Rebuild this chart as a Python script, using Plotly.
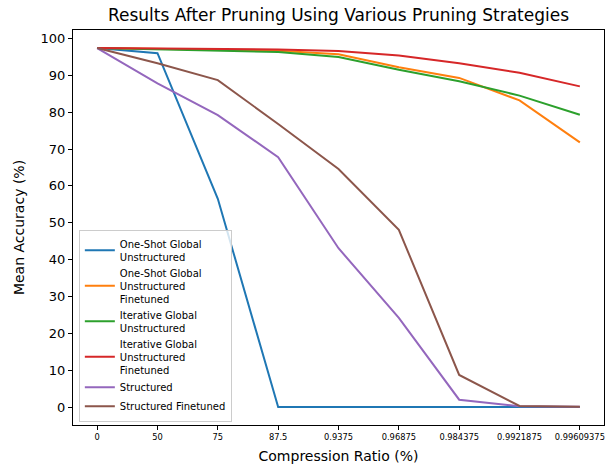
import plotly.graph_objects as go

compression = ["0", "50", "75", "87.5", "0.9375", "0.96875", "0.984375", "0.9921875", "0.99609375"]
one_shot = [97.4, 96.0, 56.5, 0.0, 0.0, 0.0, 0.0, 0.0, 0.0]
one_shot_ft = [97.4, 97.2, 97.0, 96.7, 95.7, 92.2, 89.3, 83.2, 71.8]
iterative = [97.4, 97.1, 96.8, 96.3, 95.0, 91.5, 88.4, 84.5, 79.3]
iterative_ft = [97.4, 97.3, 97.2, 97.0, 96.6, 95.4, 93.3, 90.7, 87.0]
structured = [97.4, 87.8, 79.2, 67.8, 43.1, 24.2, 2.0, 0.2, 0.1]
structured_ft = [97.4, 93.3, 88.7, 76.8, 64.6, 48.1, 8.7, 0.3, 0.1]

series = [
    ("One-Shot Global<br>Unstructured", one_shot, "#1f77b4"),
    ("One-Shot Global<br>Unstructured<br>Finetuned", one_shot_ft, "#ff7f0e"),
    ("Iterative Global<br>Unstructured", iterative, "#2ca02c"),
    ("Iterative Global<br>Unstructured<br>Finetuned", iterative_ft, "#d62728"),
    ("Structured", structured, "#9467bd"),
    ("Structured Finetuned", structured_ft, "#8c564b"),
]

font = "DejaVu Sans, Liberation Sans, sans-serif"
fig = go.Figure()
for name, vals, color in series:
    fig.add_trace(go.Scatter(x=compression, y=vals, mode="lines", name=name,
                             line=dict(color=color, width=2)))

axis_common = dict(showline=True, linecolor="black", linewidth=1, mirror=True,
                   ticks="outside", ticklen=4, tickcolor="black", showgrid=False,
                   zeroline=False, automargin=False)
fig.update_layout(
    width=607, height=468,
    margin=dict(l=73, r=3, t=30, b=43),
    paper_bgcolor="white", plot_bgcolor="white",
    font=dict(family=font, color="black"),
    title=dict(text="Results After Pruning Using Various Pruning Strategies",
               x=0.5, xanchor="center", xref="paper", y=1 - 15 / 468, yanchor="middle",
               font=dict(size=17, family=font)),
    xaxis=dict(type="category", categoryorder="array", categoryarray=compression,
               range=[-0.4, 8.4], tickfont=dict(size=8.3),
               title=dict(text="Compression Ratio (%)", font=dict(size=14), standoff=10),
               **axis_common),
    yaxis=dict(range=[-4.87, 102.3], dtick=10, tick0=0, tickfont=dict(size=13),
               title=dict(text="Mean Accuracy (%)", font=dict(size=14), standoff=12),
               **axis_common),
    legend=dict(x=0.011, y=0.008, xanchor="left", yanchor="bottom",
                bgcolor="rgba(255,255,255,0.8)", bordercolor="#cccccc", borderwidth=1,
                font=dict(size=10, family=font), tracegroupgap=0, itemwidth=30),
)
fig.write_html("out.html", config={"displayModeBar": False},
               post_script="document.body.style.margin='0';")
